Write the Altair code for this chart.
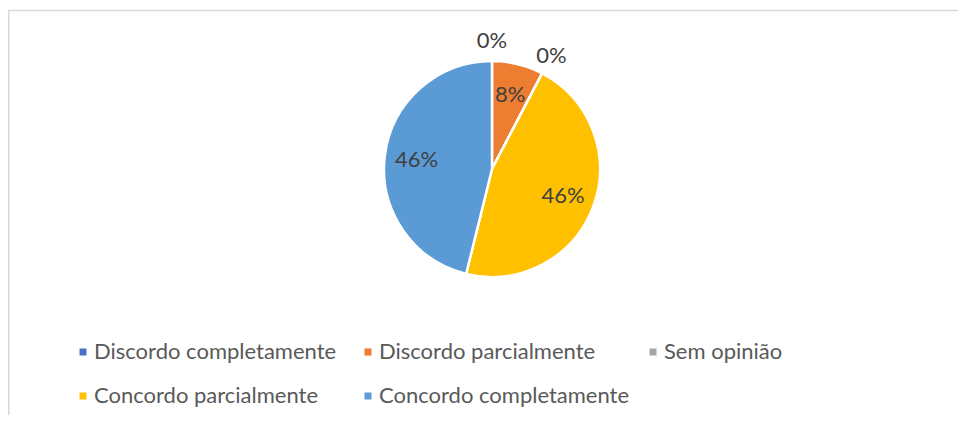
import altair as alt
import pandas as pd

categories = ["Discordo completamente", "Discordo parcialmente", "Sem opinião",
              "Concordo parcialmente", "Concordo completamente"]
counts = [0, 2, 0, 12, 12]
colors = ["#4472C4", "#ED7D31", "#A5A5A5", "#FFC000", "#5B9BD5"]

df = pd.DataFrame({"category": categories, "value": counts,
                   "idx": list(range(len(categories)))})

FONT = "Lato"
CX, CY = 484, 161

base = alt.Chart(df).transform_joinaggregate(total="sum(value)").transform_window(
    cum="sum(value)", sort=[alt.SortField("idx")], frame=[None, 0]
).transform_calculate(
    pct="datum.value / datum.total",
    mid="datum.cum - datum.value / 2",
    lr="datum.value == 0 ? 128 : 76",
)

arcs = base.mark_arc(outerRadius=108, stroke="white", strokeWidth=2.5).encode(
    theta=alt.Theta("value:Q", stack=True),
    order=alt.Order("idx:Q"),
    x=alt.value(CX),
    y=alt.value(CY),
    color=alt.Color(
        "category:N",
        scale=alt.Scale(domain=categories, range=colors),
        legend=alt.Legend(
            orient="none", legendX=64, legendY=333, columns=3, gridAlign="all",
            direction="horizontal",
            title=None, symbolType="square", symbolSize=49, symbolStrokeWidth=0,
            labelFont=FONT, labelFontSize=22, labelColor="#595959", labelLimit=0,
            labelOffset=0, columnPadding=12, rowPadding=22, padding=0,
        ),
    ),
)

texts = base.mark_text(font=FONT, fontSize=22, color="#404040",
                       align="center", baseline="middle").encode(
    theta=alt.Theta("mid:Q", stack=None),
    radius=alt.Radius("lr:Q", scale=None),
    x=alt.value(CX),
    y=alt.value(CY),
    text=alt.Text("pct:Q", format=".0%"),
)

frame_data = alt.Data(values=[{}])
frame_top = alt.Chart(frame_data).mark_rule(color="#D9D9D9", strokeWidth=1.5).encode(
    x=alt.value(0), x2=alt.value(950), y=alt.value(2.5))
frame_left = alt.Chart(frame_data).mark_rule(color="#D9D9D9", strokeWidth=1.5).encode(
    x=alt.value(0.75), y=alt.value(2.5), y2=alt.value(407))

chart = alt.layer(frame_top, frame_left, arcs, texts).properties(
    width=950, height=407, autosize="none", padding=0
).configure_view(stroke=None)

chart.save("out.html", embed_options={"renderer": "svg", "actions": False})
